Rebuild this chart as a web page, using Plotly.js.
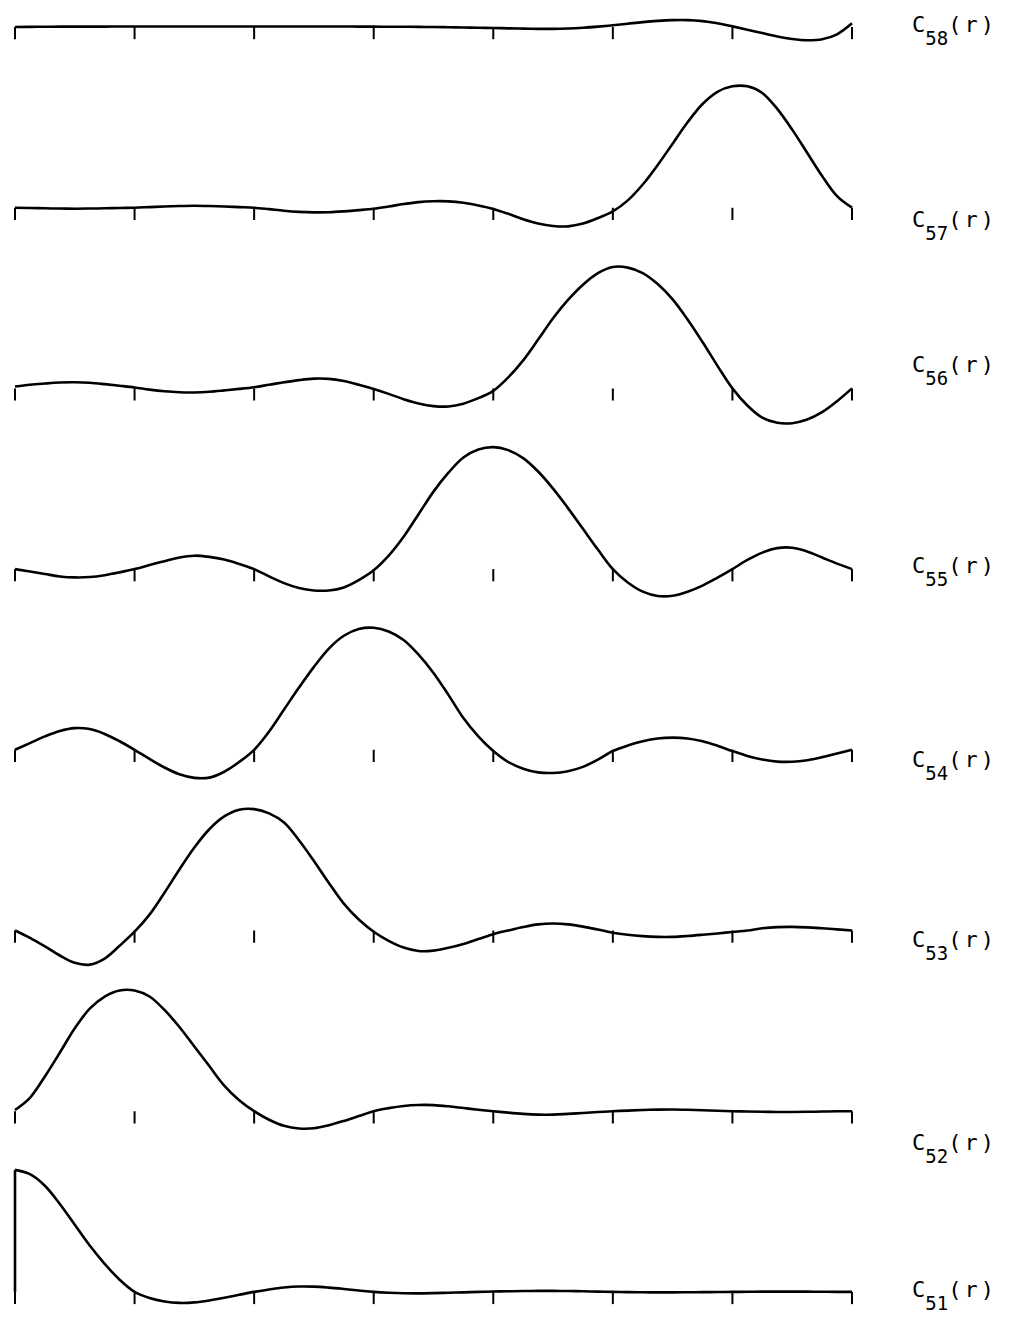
<!DOCTYPE html>
<html>
<head>
<meta charset="utf-8">
<script src="https://cdn.plot.ly/plotly-3.0.1.min.js"></script>
<style>
  html, body { margin: 0; padding: 0; background: #ffffff; }
  #chart { width: 1012px; height: 1318px; }
</style>
</head>
<body>
<div id="chart"></div>
<script>
// ---------------- data ----------------
// node positions r = 0 … 7 (tick marks)
const tickPositions = [0, 1, 2, 3, 4, 5, 6, 7];
// positions at which each curve was read (eighth steps)
const r = [0, 0.125, 0.25, 0.375, 0.5, 0.625, 0.75, 0.875,
           1, 1.125, 1.25, 1.375, 1.5, 1.625, 1.75, 1.875,
           2, 2.125, 2.25, 2.375, 2.5, 2.625, 2.75, 2.875,
           3, 3.125, 3.25, 3.375, 3.5, 3.625, 3.75, 3.875,
           4, 4.125, 4.25, 4.375, 4.5, 4.625, 4.75, 4.875,
           5, 5.125, 5.25, 5.375, 5.5, 5.625, 5.75, 5.875,
           6, 6.125, 6.25, 6.375, 6.5, 6.625, 6.75, 6.875, 7];

const c58 = [0, 0.001, 0.002, 0.003, 0.003, 0.003, 0.003, 0.004,
             0.004, 0.004, 0.004, 0.004, 0.004, 0.004, 0.004, 0.004,
             0.004, 0.004, 0.004, 0.004, 0.004, 0.004, 0.004, 0.003,
             0.003, 0.002, 0.002, 0.001, 0.0, -0.002, -0.004, -0.006,
             -0.008, -0.011, -0.013, -0.015, -0.015, -0.012, -0.006, 0.003,
             0.014, 0.027, 0.04, 0.05, 0.056, 0.056, 0.048, 0.03,
             0.005, -0.022, -0.05, -0.078, -0.098, -0.108, -0.1, -0.06, 0.03];
const c57 = [0, -0.002, -0.005, -0.007, -0.008, -0.007, -0.005, -0.002,
             0.0, 0.005, 0.01, 0.014, 0.016, 0.014, 0.01, 0.005,
             0.0, -0.012, -0.025, -0.034, -0.038, -0.037, -0.03, -0.02,
             -0.008, 0.01, 0.03, 0.046, 0.053, 0.052, 0.04, 0.018,
             -0.01, -0.05, -0.095, -0.13, -0.15, -0.153, -0.13, -0.085,
             -0.03, 0.06, 0.19, 0.35, 0.525, 0.7, 0.85, 0.95,
             0.995, 0.995, 0.94, 0.81, 0.64, 0.45, 0.26, 0.095, 0.0];
const c56 = [0.015, 0.03, 0.04, 0.048, 0.05, 0.046, 0.035, 0.022,
             0.008, -0.01, -0.024, -0.032, -0.033, -0.027, -0.016, -0.004,
             0.01, 0.03, 0.05, 0.068, 0.08, 0.078, 0.06, 0.03,
             -0.005, -0.045, -0.088, -0.123, -0.145, -0.148, -0.125, -0.08,
             -0.02, 0.09, 0.23, 0.4, 0.575, 0.725, 0.85, 0.945,
             0.995, 0.99, 0.945, 0.855, 0.73, 0.565, 0.38, 0.185,
             0.0, -0.14, -0.24, -0.282, -0.285, -0.255, -0.195, -0.105, 0.0];
const c55 = [0, -0.02, -0.04, -0.06, -0.068, -0.065, -0.05, -0.027,
             0.0, 0.033, 0.065, 0.095, 0.11, 0.1, 0.078, 0.042,
             0.0, -0.06, -0.115, -0.155, -0.175, -0.175, -0.15, -0.09,
             -0.01, 0.11, 0.265, 0.45, 0.635, 0.79, 0.915, 0.98,
             1.0, 0.975, 0.91, 0.8, 0.66, 0.5, 0.33, 0.16,
             0.0, -0.11, -0.185, -0.22, -0.218, -0.185, -0.135, -0.07,
             0.0, 0.075, 0.135, 0.172, 0.175, 0.145, 0.095, 0.045, 0.0];
const c54 = [0, 0.055, 0.11, 0.155, 0.178, 0.17, 0.13, 0.07,
             0.0, -0.075, -0.145, -0.2, -0.23, -0.228, -0.18, -0.1,
             0.0, 0.15, 0.33, 0.51, 0.68, 0.83, 0.935, 0.99,
             1.0, 0.97, 0.9, 0.78, 0.63, 0.45, 0.26, 0.11,
             -0.01, -0.1, -0.155, -0.185, -0.19, -0.175, -0.14, -0.08,
             -0.01, 0.035, 0.07, 0.093, 0.1, 0.093, 0.07, 0.033,
             -0.01, -0.05, -0.08, -0.097, -0.098, -0.085, -0.06, -0.03, 0.0];
const c53 = [0, -0.06, -0.13, -0.205, -0.265, -0.28, -0.23, -0.125,
             -0.01, 0.13, 0.31, 0.5, 0.68, 0.83, 0.935, 0.99,
             0.995, 0.96, 0.885, 0.74, 0.57, 0.39, 0.22, 0.09,
             -0.01, -0.085, -0.14, -0.168, -0.165, -0.142, -0.11, -0.07,
             -0.03, 0.0, 0.028, 0.05, 0.057, 0.05, 0.032, 0.008,
             -0.018, -0.035, -0.046, -0.052, -0.052, -0.045, -0.035, -0.024,
             -0.012, 0.0, 0.018, 0.028, 0.03, 0.026, 0.018, 0.009, 0.0];
const c52 = [0.01, 0.11, 0.285, 0.48, 0.68, 0.84, 0.94, 0.99,
             0.99, 0.94, 0.83, 0.69, 0.53, 0.37, 0.21, 0.09,
             0.0, -0.07, -0.12, -0.142, -0.14, -0.115, -0.08, -0.04,
             0.0, 0.025, 0.043, 0.051, 0.05, 0.04, 0.026, 0.012,
             0.0, -0.012, -0.022, -0.028, -0.028, -0.022, -0.015, -0.007,
             0.0, 0.005, 0.01, 0.013, 0.014, 0.012, 0.008, 0.004,
             0.0, -0.003, -0.005, -0.006, -0.006, -0.005, -0.003, -0.001, 0.0];
const c51 = [1.0, 0.965, 0.87, 0.72, 0.55, 0.38, 0.23, 0.1,
             0.0, -0.05, -0.078, -0.09, -0.086, -0.07, -0.048, -0.024,
             0.0, 0.02, 0.036, 0.044, 0.043, 0.035, 0.024, 0.012,
             0.0, -0.007, -0.011, -0.012, -0.01, -0.007, -0.004, 0.0,
             0.003, 0.005, 0.007, 0.008, 0.008, 0.007, 0.005, 0.002,
             0.0, -0.002, -0.003, -0.004, -0.004, -0.003, -0.002, -0.001,
             0.0, 0.001, 0.002, 0.002, 0.002, 0.002, 0.001, 0.0, 0.0];

// label pieces
const labelSubscripts = ['58', '57', '56', '55', '54', '53', '52', '51'];
const labelMain = 'C';
const labelArg = '(r)';

// ---------------- layout constants (pixels) ----------------
const W = 1012, H = 1318;
const X0_PX = 15, DX_PX = 119.57;       // r = 0 at x=15 px, one unit = 119.57 px
const UNIT_PX = 122;                    // C = 1 -> 122 px
const FIRST_BASE_PX = 27, ROW_STEP_PX = 180.7;
const TICK_DEPTH = 0.1;                 // tick length in C units
const labelBaselinePx = [32, 227, 372, 573, 767, 947, 1150, 1297];
const LABEL_LEFT_PX = 910;

const rows = [c58, c57, c56, c55, c54, c53, c52, c51];

const traces = [];
const layout = {
  width: W, height: H,
  margin: {l: 0, r: 0, t: 0, b: 0, pad: 0},
  paper_bgcolor: '#ffffff', plot_bgcolor: '#ffffff',
  showlegend: false,
  xaxis: {
    range: [-X0_PX / DX_PX, (W - X0_PX) / DX_PX],
    domain: [0, 1], visible: false, fixedrange: true, anchor: 'y'
  },
  annotations: []
};

const tickX = [], tickY = [];
tickPositions.forEach(p => { tickX.push(p, p, null); tickY.push(0, -TICK_DEPTH, null); });

rows.forEach((vals, i) => {
  const base = FIRST_BASE_PX + i * ROW_STEP_PX;
  const topPx = Math.max(0, base - 125);
  const botPx = Math.min(H, base + 55);
  const axKey = i === 0 ? 'yaxis' : 'yaxis' + (i + 1);
  const axRef = i === 0 ? 'y' : 'y' + (i + 1);
  layout[axKey] = {
    domain: [1 - botPx / H, 1 - topPx / H],
    range: [-(botPx - base) / UNIT_PX, (base - topPx) / UNIT_PX],
    visible: false, fixedrange: true, anchor: 'x'
  };
  traces.push({
    type: 'scatter', mode: 'lines', x: r, y: vals,
    xaxis: 'x', yaxis: axRef, hoverinfo: 'skip',
    line: {color: '#000000', width: 2.6, shape: 'spline', smoothing: 1}
  });
  traces.push({
    type: 'scatter', mode: 'lines', x: tickX, y: tickY,
    xaxis: 'x', yaxis: axRef, hoverinfo: 'skip',
    line: {color: '#000000', width: 2}
  });
  layout.annotations.push({
    xref: 'paper', yref: 'paper',
    x: LABEL_LEFT_PX / W, y: 1 - (labelBaselinePx[i] - 22.3) / H,
    xanchor: 'left', yanchor: 'top', showarrow: false, align: 'left',
    font: {family: 'DejaVu Sans Mono', size: 22, color: '#000000'},
    text: labelMain +
      '<span style="font-size:19px;baseline-shift:-13px">' + labelSubscripts[i] + '</span>' +
      '<span style="letter-spacing:3px">' + labelArg + '</span>'
  });
});

// vertical stroke at r = 0 joining the baseline to the start of C51
traces.push({
  type: 'scatter', mode: 'lines', x: [r[0], r[0]], y: [0, c51[0]],
  xaxis: 'x', yaxis: 'y8', hoverinfo: 'skip',
  line: {color: '#000000', width: 2.6}
});

Plotly.newPlot('chart', traces, layout, {staticPlot: true, displayModeBar: false});
</script>
</body>
</html>
